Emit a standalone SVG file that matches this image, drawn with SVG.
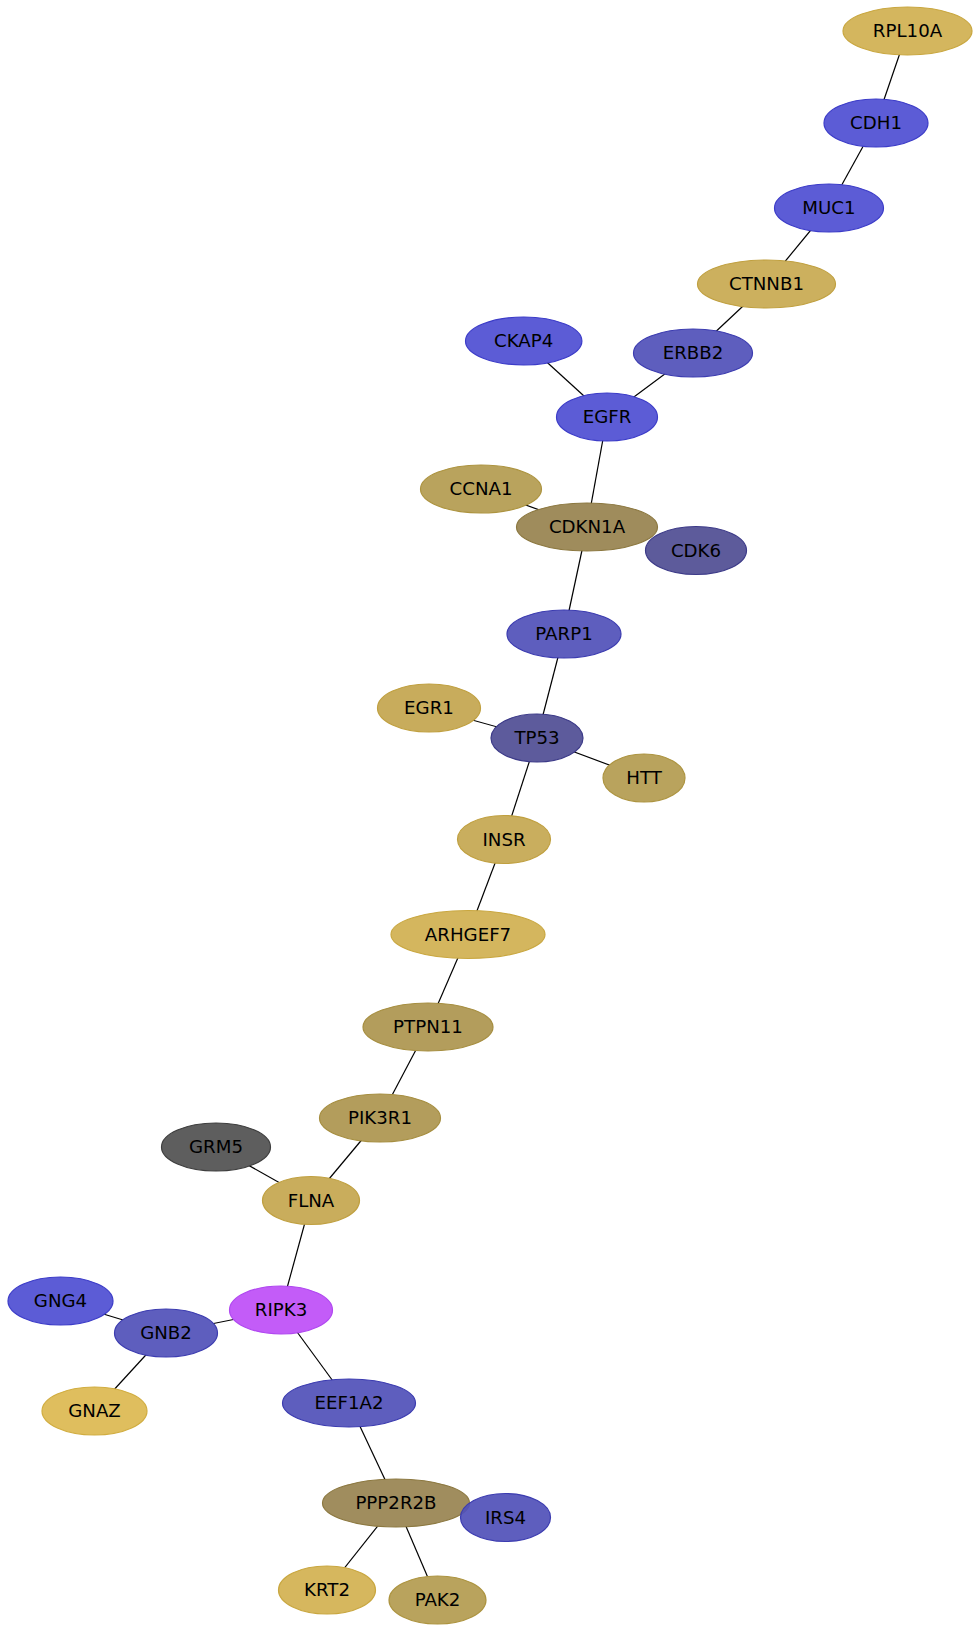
<svg xmlns="http://www.w3.org/2000/svg" width="980" height="1632" viewBox="0 0 980 1632">
<style>
.e{stroke:#000;stroke-width:1.2;fill:none}
ellipse{stroke-width:1.2}
text{font-family:"DejaVu Sans","Liberation Sans",sans-serif;font-size:18.2px;fill:#000;text-anchor:middle}
.b1{fill:#5c5cd6;stroke:#3c3cc8}
.b2{fill:#5e5ebe;stroke:#3c3cb0}
.b3{fill:#5d5b9c;stroke:#3c3a88}
.g1{fill:#d4b65e;stroke:#c9a740}
.g2{fill:#ccb05e;stroke:#c0a040}
.g3{fill:#dfbe5e;stroke:#d1ad40}
.t1{fill:#b9a35d;stroke:#ad9440}
.t2{fill:#b39d5c;stroke:#a68e40}
.o1{fill:#9f8c5c;stroke:#8c7840}
.gr{fill:#5e5e5e;stroke:#3e3e3e}
.pu{fill:#c35cf8;stroke:#b048f0}
</style>
<rect width="980" height="1632" fill="#fff"/>
<g id="edges">
<line class="e" x1="907.5" y1="31" x2="876" y2="123"/>
<line class="e" x1="876" y1="123" x2="829" y2="208"/>
<line class="e" x1="829" y1="208" x2="766.5" y2="284"/>
<line class="e" x1="766.5" y1="284" x2="693" y2="353"/>
<line class="e" x1="693" y1="353" x2="607" y2="417"/>
<line class="e" x1="523.7" y1="341" x2="607" y2="417"/>
<line class="e" x1="607" y1="417" x2="587" y2="527"/>
<line class="e" x1="481" y1="489" x2="587" y2="527"/>
<line class="e" x1="587" y1="527" x2="564" y2="634"/>
<line class="e" x1="564" y1="634" x2="537" y2="738"/>
<line class="e" x1="429" y1="708" x2="537" y2="738"/>
<line class="e" x1="537" y1="738" x2="644" y2="778"/>
<line class="e" x1="537" y1="738" x2="504" y2="839.5"/>
<line class="e" x1="504" y1="839.5" x2="468" y2="934.5"/>
<line class="e" x1="468" y1="934.5" x2="428" y2="1027"/>
<line class="e" x1="428" y1="1027" x2="380" y2="1118"/>
<line class="e" x1="380" y1="1118" x2="311" y2="1200.5"/>
<line class="e" x1="216" y1="1147" x2="311" y2="1200.5"/>
<line class="e" x1="311" y1="1200.5" x2="281" y2="1310"/>
<line class="e" x1="281" y1="1310" x2="166" y2="1333"/>
<line class="e" x1="166" y1="1333" x2="60.5" y2="1301"/>
<line class="e" x1="166" y1="1333" x2="94.5" y2="1411"/>
<line class="e" x1="281" y1="1310" x2="349" y2="1403"/>
<line class="e" x1="349" y1="1403" x2="396" y2="1503"/>
<line class="e" x1="396" y1="1503" x2="327" y2="1590"/>
<line class="e" x1="396" y1="1503" x2="437.5" y2="1600"/>
</g>
<g id="RPL10A"><ellipse class="g1" cx="907.5" cy="31" rx="64.5" ry="24"/><text x="907.5" y="37">RPL10A</text></g>
<g id="CDH1"><ellipse class="b1" cx="876" cy="123" rx="52" ry="24"/><text x="876" y="129">CDH1</text></g>
<g id="MUC1"><ellipse class="b1" cx="829" cy="208" rx="54.5" ry="24"/><text x="829" y="214">MUC1</text></g>
<g id="CTNNB1"><ellipse class="g2" cx="766.5" cy="284" rx="69" ry="24"/><text x="766.5" y="290">CTNNB1</text></g>
<g id="CKAP4"><ellipse class="b1" cx="523.7" cy="341" rx="58.2" ry="24"/><text x="523.7" y="347">CKAP4</text></g>
<g id="ERBB2"><ellipse class="b2" cx="693" cy="353" rx="59.5" ry="24"/><text x="693" y="359">ERBB2</text></g>
<g id="EGFR"><ellipse class="b1" cx="607" cy="417" rx="50.5" ry="24"/><text x="607" y="423">EGFR</text></g>
<g id="CCNA1"><ellipse class="t1" cx="481" cy="489" rx="60.5" ry="24"/><text x="481" y="495">CCNA1</text></g>
<g id="CDKN1A"><ellipse class="o1" cx="587" cy="527" rx="70.5" ry="24"/><text x="587" y="533">CDKN1A</text></g>
<g id="CDK6"><ellipse class="b3" cx="696" cy="550.5" rx="50.5" ry="24" style="fill:#4f4d93" fill-opacity="0.92"/><text x="696" y="556.5">CDK6</text></g>
<g id="PARP1"><ellipse class="b2" cx="564" cy="634" rx="57" ry="24"/><text x="564" y="640">PARP1</text></g>
<g id="EGR1"><ellipse class="g2" cx="429" cy="708" rx="51.5" ry="24" style="fill:#c8ac5c"/><text x="429" y="714">EGR1</text></g>
<g id="TP53"><ellipse class="b3" cx="537" cy="738" rx="46" ry="24"/><text x="537" y="744">TP53</text></g>
<g id="HTT"><ellipse class="t1" cx="644" cy="778" rx="41" ry="24"/><text x="644" y="784">HTT</text></g>
<g id="INSR"><ellipse class="g2" cx="504" cy="839.5" rx="46.5" ry="24" style="fill:#c9ae5e"/><text x="504" y="845.5">INSR</text></g>
<g id="ARHGEF7"><ellipse class="g1" cx="468" cy="934.5" rx="77" ry="24"/><text x="468" y="940.5">ARHGEF7</text></g>
<g id="PTPN11"><ellipse class="t2" cx="428" cy="1027" rx="65" ry="24"/><text x="428" y="1033">PTPN11</text></g>
<g id="PIK3R1"><ellipse class="t2" cx="380" cy="1118" rx="60.5" ry="24"/><text x="380" y="1124">PIK3R1</text></g>
<g id="GRM5"><ellipse class="gr" cx="216" cy="1147" rx="54.5" ry="24"/><text x="216" y="1153">GRM5</text></g>
<g id="FLNA"><ellipse class="g2" cx="311" cy="1200.5" rx="48.5" ry="24" style="fill:#c9ad5c"/><text x="311" y="1206.5">FLNA</text></g>
<g id="GNG4"><ellipse class="b1" cx="60.5" cy="1301" rx="52.5" ry="24"/><text x="60.5" y="1307">GNG4</text></g>
<g id="GNB2"><ellipse class="b2" cx="166" cy="1333" rx="51.5" ry="24"/><text x="166" y="1339">GNB2</text></g>
<g id="RIPK3"><ellipse class="pu" cx="281" cy="1310" rx="51.5" ry="24"/><text x="281" y="1316">RIPK3</text></g>
<g id="GNAZ"><ellipse class="g3" cx="94.5" cy="1411" rx="52.5" ry="24"/><text x="94.5" y="1417">GNAZ</text></g>
<g id="EEF1A2"><ellipse class="b2" cx="349" cy="1403" rx="66.5" ry="24"/><text x="349" y="1409">EEF1A2</text></g>
<g id="PPP2R2B"><ellipse class="o1" cx="396" cy="1503" rx="73.5" ry="24" style="fill:#a08d5e"/><text x="396" y="1509">PPP2R2B</text></g>
<g id="IRS4"><ellipse class="b2" cx="505.5" cy="1517.5" rx="45" ry="24" style="fill:#5050b8" fill-opacity="0.92"/><text x="505.5" y="1523.5">IRS4</text></g>
<g id="KRT2"><ellipse class="g1" cx="327" cy="1590" rx="48.5" ry="24" style="fill:#d6b75e"/><text x="327" y="1596">KRT2</text></g>
<g id="PAK2"><ellipse class="t1" cx="437.5" cy="1600" rx="48.5" ry="24"/><text x="437.5" y="1606">PAK2</text></g>
</svg>
